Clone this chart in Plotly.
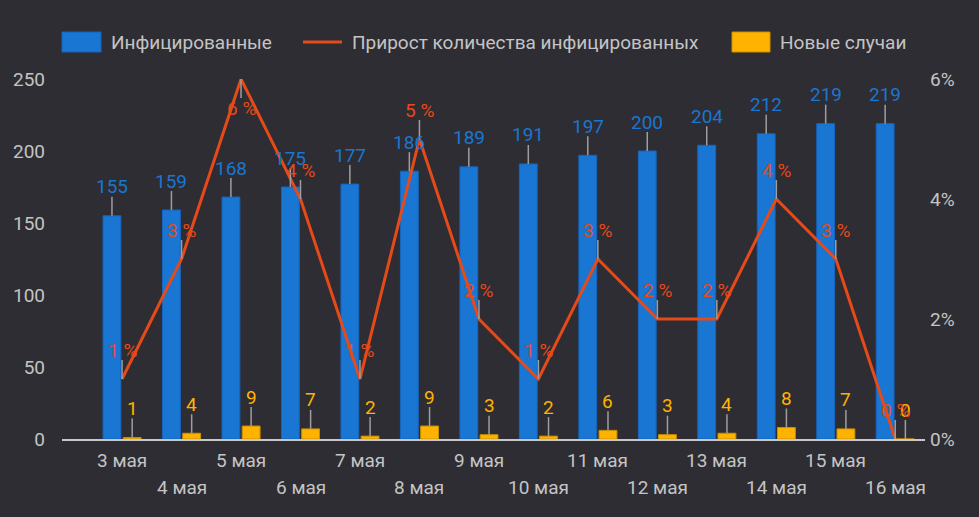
import plotly.graph_objects as go

dates = ["3 мая", "4 мая", "5 мая", "6 мая", "7 мая", "8 мая", "9 мая",
         "10 мая", "11 мая", "12 мая", "13 мая", "14 мая", "15 мая", "16 мая"]
infected = [155, 159, 168, 175, 177, 186, 189, 191, 197, 200, 204, 212, 219, 219]
new_cases = [1, 4, 9, 7, 2, 9, 3, 2, 6, 3, 4, 8, 7, 0]
growth_pct = [1, 3, 6, 4, 1, 5, 2, 1, 3, 2, 2, 4, 3, 0]

BG = "#2e2d33"
BLUE = "#1976d2"
BLUE_EDGE = "#1565c0"
YELLOW = "#ffb300"
YELLOW_EDGE = "#c98f00"
ORANGE = "#e64a19"
GRAY_TXT = "#c4c4c4"
TICK_GRAY = "#9e9e9e"
FONT = "Roboto"
FS = 19

W, H = 979, 517
L, R, T, B = 62, 54, 79, 78
PW, PH = W - L - R, H - T - B


def px(x):
    return (x - L) / PW


def py(y):
    return (H - B - y) / PH


idx = list(range(len(dates)))
BW = 0.3
OFF_BLUE = -0.32
OFF_YEL = 0.02

fig = go.Figure()
fig.add_bar(x=idx, y=infected, width=BW, offset=OFF_BLUE, marker_color=BLUE,
            marker_line=dict(width=1, color=BLUE_EDGE), name="Инфицированные", yaxis="y")
fig.add_bar(x=idx, y=new_cases, width=BW, offset=OFF_YEL, marker_color=YELLOW,
            marker_line=dict(width=1, color=YELLOW_EDGE), name="Новые случаи", yaxis="y")
fig.add_scatter(x=idx, y=[g / 100 for g in growth_pct], mode="lines",
                line=dict(color=ORANGE, width=3), yaxis="y2", cliponaxis=False,
                name="Прирост количества инфицированных")

shapes = []
annotations = []


def label(xv, yv, yref, text, color, down=False):
    sign = -1 if down else 1
    shapes.append(dict(type="line", xref="x", yref=yref, xsizemode="pixel",
                       ysizemode="pixel", xanchor=xv, yanchor=yv, x0=0, x1=0,
                       y0=0, y1=19 * sign, line=dict(color=TICK_GRAY, width=1.5),
                       layer="above"))
    annotations.append(dict(x=xv, y=yv, xref="x", yref=yref, text=text,
                            showarrow=False, yanchor="middle", xanchor="center",
                            yshift=29 * sign, font=dict(family=FONT, size=FS, color=color)))


for i, v in enumerate(infected):
    label(i + OFF_BLUE + BW / 2, v, "y", str(v), BLUE)
for i, v in enumerate(new_cases):
    label(i + OFF_YEL + BW / 2, v, "y", str(v), YELLOW)
gmax = max(growth_pct)
for i, g in enumerate(growth_pct):
    label(i, g / 100, "y2", f"{g} %", ORANGE, down=(g == gmax))

# category labels in two staggered rows
for i, d in enumerate(dates):
    annotations.append(dict(x=i, y=0, xref="x", yref="paper", text=d, showarrow=False,
                            yanchor="middle", xanchor="center",
                            yshift=-21 if i % 2 == 0 else -48,
                            font=dict(family=FONT, size=FS, color=GRAY_TXT)))

# custom legend
shapes.append(dict(type="rect", xref="paper", yref="paper", x0=px(62), x1=px(101),
                   y0=py(52), y1=py(32), fillcolor=BLUE, line=dict(width=1, color=BLUE_EDGE)))
shapes.append(dict(type="line", xref="paper", yref="paper", x0=px(303), x1=px(342),
                   y0=py(42), y1=py(42), line=dict(color=ORANGE, width=3)))
shapes.append(dict(type="rect", xref="paper", yref="paper", x0=px(732), x1=px(770),
                   y0=py(52), y1=py(32), fillcolor=YELLOW, line=dict(width=1, color=YELLOW_EDGE)))
for xpos, txt in [(109, "Инфицированные"), (350, "Прирост количества инфицированных"),
                  (778, "Новые случаи")]:
    annotations.append(dict(x=px(xpos), y=py(43), xref="paper", yref="paper", text=txt,
                            showarrow=False, xanchor="left", yanchor="middle",
                            font=dict(family=FONT, size=FS, color=GRAY_TXT)))

fig.update_layout(
    width=W, height=H, paper_bgcolor=BG, plot_bgcolor=BG,
    margin=dict(l=L, r=R, t=T, b=B), barmode="overlay", showlegend=False,
    font=dict(family=FONT, size=FS, color=GRAY_TXT),
    xaxis=dict(range=[-1.01, 13.5], showticklabels=False, showgrid=False, zeroline=False,
               showline=True, linecolor="#c8c8c8", linewidth=2, fixedrange=True),
    yaxis=dict(range=[0, 250], tickvals=[0, 50, 100, 150, 200, 250], showgrid=False,
               zeroline=False, ticklabelstandoff=16,
               tickfont=dict(family=FONT, size=FS, color=GRAY_TXT)),
    yaxis2=dict(range=[0, 0.06], tickvals=[0, 0.02, 0.04, 0.06], tickformat=".0%",
                overlaying="y", side="right", showgrid=False, zeroline=False,
                ticklabelstandoff=4,
                tickfont=dict(family=FONT, size=FS, color=GRAY_TXT)),
    shapes=shapes, annotations=annotations,
)

fig.write_html("out.html", config={"displayModeBar": False},
               post_script="document.body.style.margin='0';document.body.style.background='"
               + BG + "';")
